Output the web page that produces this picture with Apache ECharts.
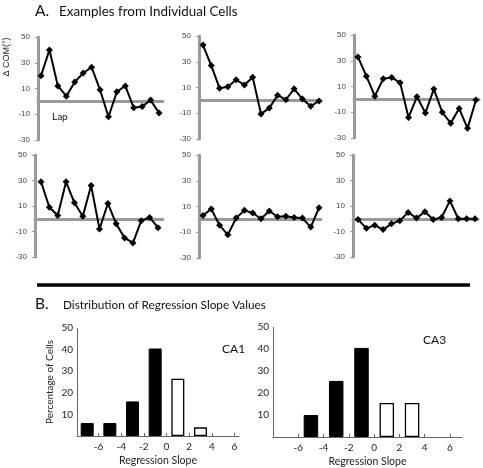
<!DOCTYPE html>
<html><head><meta charset="utf-8">
<script src="https://cdn.jsdelivr.net/npm/echarts@6/dist/echarts.min.js"></script>
<style>html,body{margin:0;padding:0;background:#fff}#c{width:483px;height:468px}</style>
</head><body><div id="c"></div>
<script>
// ---- data ----
var laps = [1,2,3,4,5,6,7,8,9,10,11,12,13,14,15];
var cell1 = [20, 40, 12, 4, 15, 22, 26.5, 9, -12, 7.5, 12, -5, -4, 1, -9];
var cell2 = [43, 27, 9.5, 10.5, 16, 12, 18, -10.5, -6, 4, 0.5, 9, 1, -4.5, -0.5];
var cell3 = [33, 18, 2.5, 16, 17, 13, -14, 2, -10.5, 8, -10, -18.5, -7, -22.5, -0.5];
var cell4 = [29, 9, 2.5, 29, 12.5, 2, 26, -8, 12, -4, -15, -19, -1.5, 1, -7];
var cell5 = [3, 8, -4.5, -12, 1, 7, 5, 0.5, 6.5, 2, 2.5, 1.5, 1, -6, 9];
var cell6 = [-0.5, -7.5, -5, -8.5, -4, -1.5, 5, 0.5, 5.5, -0.5, 1, 14, 0, 0, 0];
var comTicks = [-30, -10, 10, 30, 50];

var slopeBins = [-7, -5, -3, -1, 1, 3];
var ca1Pct = [6, 6, 16, 40.5, 26.5, 4];
var slopeBins3 = [-5, -3, -1, 1, 3];
var ca3Pct = [10, 25.5, 40.5, 15.5, 15.5];
var slopeTicks = [-6, -4, -2, 0, 2, 4, 6];

// ---- build ----
var chart = echarts.init(document.getElementById('c'), null, {renderer: 'canvas'});
var gray = '#9a9a9a';
var panels = [
  {d: cell1, left: 38, top: 37, h: 103, w: 125, min: 0.64, max: 15.47},
  {d: cell2, left: 199, top: 36, h: 103, w: 122, min: 0.52, max: 15.24},
  {d: cell3, left: 354, top: 35, h: 103, w: 125, min: 0.53, max: 15.36},
  {d: cell4, left: 35, top: 155, h: 102, w: 128, min: 0.28, max: 15.6},
  {d: cell5, left: 199, top: 155, h: 103, w: 122, min: 0.52, max: 15.24},
  {d: cell6, left: 353, top: 155, h: 102, w: 125, min: 0.4, max: 15.36}
];
var grids = [], xAxes = [], yAxes = [], series = [];
panels.forEach(function (p, i) {
  grids.push({left: p.left, top: p.top, width: p.w, height: p.h});
  xAxes.push({type: 'value', gridIndex: i, min: p.min, max: p.max,
    axisLine: {show: true, onZero: true, lineStyle: {color: gray, width: 3}},
    axisTick: {show: false}, axisLabel: {show: false}, splitLine: {show: false}});
  yAxes.push({type: 'value', gridIndex: i, min: -30, max: 50,
    axisLine: {show: true, onZero: false, lineStyle: {color: gray, width: 3}},
    axisTick: {show: true, length: 3, customValues: comTicks, lineStyle: {color: gray, width: 1}},
    axisLabel: {show: true, customValues: comTicks, margin: 8, fontSize: 8, color: '#444', fontFamily: 'Liberation Sans'},
    splitLine: {show: false}});
  series.push({type: 'line', xAxisIndex: i, yAxisIndex: i,
    data: laps.map(function (l, k) { return [l, p.d[k]]; }),
    symbol: 'diamond', symbolSize: 7, showSymbol: true,
    lineStyle: {color: '#000', width: 2}, itemStyle: {color: '#000'}, z: 3, animation: false});
});

var barGrids = [];
function barAxes(gi, left, top, w, h, xmin, xmax) {
  barGrids.push({left: left, top: top, h: h});
  grids.push({left: left, top: top, width: w, height: h});
  xAxes.push({type: 'value', gridIndex: gi, min: xmin, max: xmax,
    axisLine: {show: true, onZero: false, lineStyle: {color: '#666', width: 1}},
    axisTick: {show: true, inside: true, length: 3, customValues: slopeTicks, lineStyle: {color: '#666'}},
    axisLabel: {customValues: slopeTicks, margin: 6, fontSize: 10, color: '#222', fontFamily: 'Lato'},
    splitLine: {show: false},
    name: 'Regression Slope', nameLocation: 'middle', nameGap: 19,
    nameTextStyle: {fontSize: 10.5, color: '#222', fontFamily: 'Lato'}});
  yAxes.push({type: 'value', gridIndex: gi, min: 0, max: 50, interval: 10, position: 'left',
    axisLine: {show: false, onZero: false},
    axisTick: {show: false},
    axisLabel: {showMinLabel: false, margin: 4, fontSize: 10, color: '#222', fontFamily: 'Lato'},
    splitLine: {show: false}});
}
barAxes(6, 77, 328, 162, 108, -7.9, 6.4);
barAxes(7, 273, 327, 189, 110, -8.0, 6.95);
yAxes[6].name = 'Percentage of Cells';
yAxes[6].nameLocation = 'middle';
yAxes[6].nameGap = 22;
yAxes[6].nameTextStyle = {fontSize: 10, color: '#222', fontFamily: 'Lato'};

function barStyle(x) {
  return x < 0 ? {color: '#000', borderColor: '#000', borderWidth: 1}
               : {color: '#fff', borderColor: '#000', borderWidth: 1.3};
}
series.push({type: 'bar', xAxisIndex: 6, yAxisIndex: 6, barWidth: 13, animation: false,
  data: slopeBins.map(function (x, k) { return {value: [x, ca1Pct[k]], itemStyle: barStyle(x)}; })});
series.push({type: 'bar', xAxisIndex: 7, yAxisIndex: 7, barWidth: 14.5, animation: false,
  data: slopeBins3.map(function (x, k) { return {value: [x, ca3Pct[k]], itemStyle: barStyle(x)}; })});

var txt = function (x, y, s, size, extra) {
  var st = {text: s, fontSize: size, fill: '#111', fontFamily: 'Lato', verticalAlign: 'middle'};
  for (var k in (extra || {})) st[k] = extra[k];
  return {type: 'text', x: x, y: y, style: st};
};
var graphic = [
  txt(35, 11, 'A.', 15.5),
  txt(59, 12, 'Examples from Individual Cells', 13.4),
  txt(52, 117, 'Lap', 10),
  {type: 'text', x: 7, y: 57, rotation: Math.PI / 2,
   style: {text: 'Δ COM(°)', fontSize: 9, fill: '#222', fontFamily: 'Liberation Sans', align: 'center', verticalAlign: 'middle'}},
  {type: 'line', shape: {x1: 37, y1: 285, x2: 470, y2: 285}, style: {stroke: '#000', lineWidth: 3.5}},
  txt(35, 304, 'B.', 15.5),
  txt(63, 305, 'Distribution of Regression Slope Values', 11.8),
  txt(222, 349, 'CA1', 12),
  txt(423, 340, 'CA3', 12)
];
// vertical axis lines of the two histograms (frame decoration at grid edges)
barGrids.forEach(function (g) {
  graphic.push({type: 'line', shape: {x1: g.left + 0.5, y1: g.top, x2: g.left + 0.5, y2: g.top + g.h},
    style: {stroke: '#666', lineWidth: 1}});
});

chart.setOption({animation: false, grid: grids, xAxis: xAxes, yAxis: yAxes, series: series, graphic: graphic});
</script></body></html>
